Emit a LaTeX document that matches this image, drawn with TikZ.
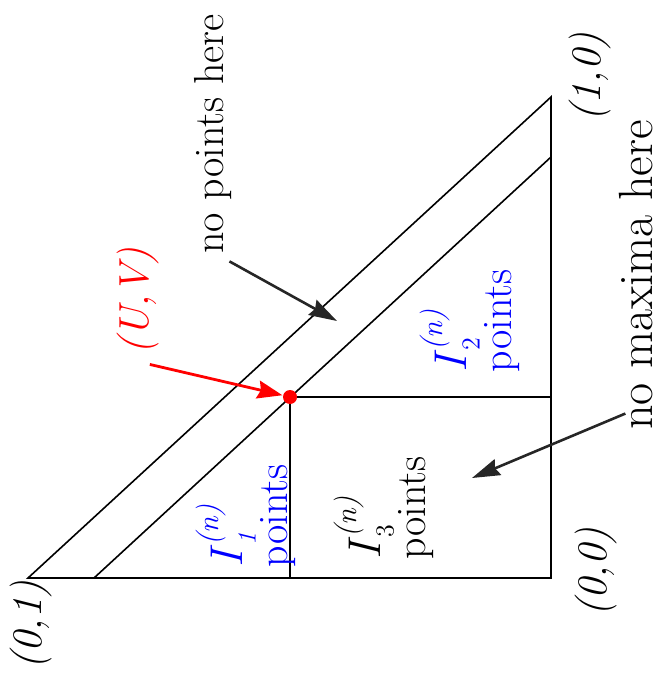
\documentclass[tikz,border=0pt]{standalone}
\usetikzlibrary{arrows.meta}

\newcommand{\Ilab}[1]{{\fontsize{23}{23}\selectfont\textit{I}}\rlap{\raisebox{-6.5pt}{\fontsize{13}{13}\selectfont #1}}\raisebox{12pt}{\fontsize{15}{15}\selectfont\textit{(n)}}}

\begin{document}
\begin{tikzpicture}[x=0.5pt, y=-0.5pt, line width=0.8pt,
  >={Stealth[length=14pt, width=8.5pt, inset=1.5pt]},
  lbl/.style={rotate=90, inner sep=0pt, font=\fontsize{21}{22.5}\selectfont},
  corner/.style={lbl, font=\fontsize{21}{22.5}\selectfont\itshape},
  region/.style={lbl, align=left},
  note/.style={->, line width=1.3pt, draw=black!85, fill=black!85},
  redarr/.style={->, line width=1.4pt, draw=red, >={Stealth[length=12.5pt, width=9pt, inset=1.5pt]}},
  dot/.style={circle, fill=red, inner sep=0pt, minimum size=7pt}]
  \useasboundingbox (0,0) rectangle (659,683);
  % the triangle and its cut
  \coordinate (p01) at (28,578);
  \coordinate (p00) at (551,578);
  \coordinate (p10) at (551,97);
  \coordinate (q01) at (94,578);
  \coordinate (q10) at (551,157);
  \coordinate (uvc) at (290,397);
  \coordinate (qx) at (290,578);
  \coordinate (qy) at (551,397);
  \draw (p01) -- (p00) -- (p10) -- cycle;
  \draw (q01) -- (q10);
  \draw (qx) -- (uvc) -- (qy);
  \node[dot] (uv) at (uvc) {};
  % labels
  \node[corner] (l01) at (31,625) {(0,1)};
  \node[corner] (l00) at (596,572) {(0,0)};
  \node[corner] (l10) at (590,77) {(1,0)};
  \node[corner, text=red] (luv) at (138,301) {(U,V)};
  \node[lbl] (lnp) at (213,134) {no points here};
  \node[lbl, font=\fontsize{24}{25}\selectfont] (lnm) at (636,275) {no maxima here};
  \node[region, text=blue] (r1) at (246,516) {\Ilab{\textit{1}}\\points};
  \node[region] (r3) at (384,508) {\Ilab{3}\\points};
  \node[region, text=blue] (r2) at (470,321) {\Ilab{2}\\points};
  % arrows
  \coordinate (tnp) at (337,321);
  \coordinate (tnm) at (472,478);
  \draw[note] ([shift={(-3,7)}]lnp.south west) -- (tnp);
  \draw[note] ([shift={(7,-17)}]lnm.north west) -- (tnm);
  \draw[redarr] ([shift={(-10,9)}]luv.south west) -- (uv);
\end{tikzpicture}
\end{document}
